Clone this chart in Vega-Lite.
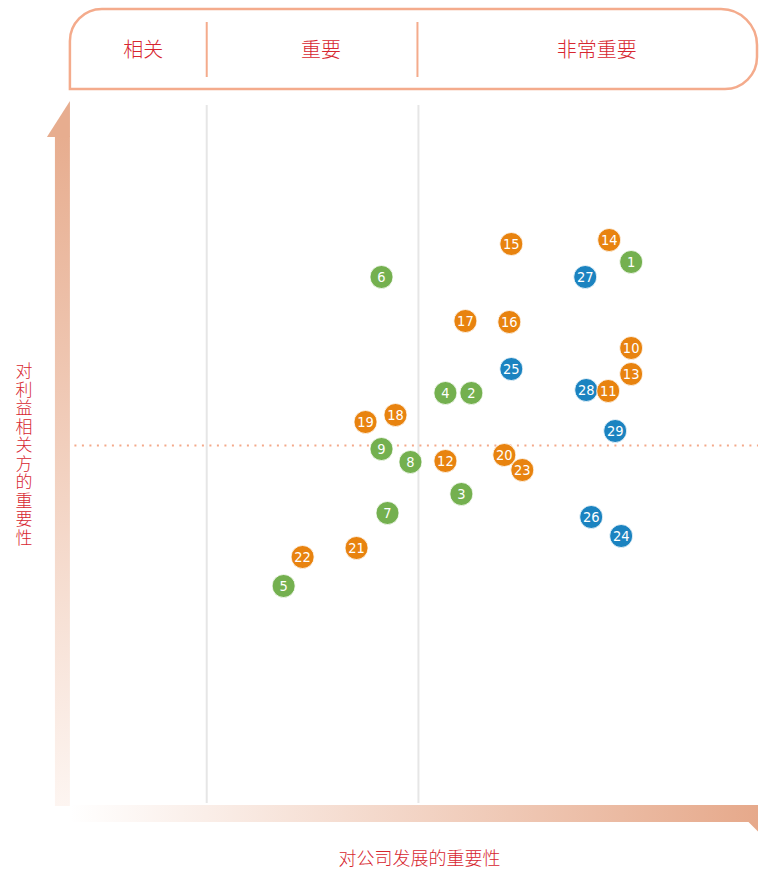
{
  "$schema": "https://vega.github.io/schema/vega-lite/v6.json",
  "width": 759,
  "height": 869,
  "autosize": {"type": "fit", "contains": "padding"},
  "padding": 0,
  "background": "white",
  "config": {"view": {"stroke": null}},
  "data": {"values": [
    {"id": "24", "group": "C", "company": 622, "stakeholder": 333},
    {"id": "25", "group": "C", "company": 512, "stakeholder": 500},
    {"id": "26", "group": "C", "company": 592, "stakeholder": 352},
    {"id": "27", "group": "C", "company": 586, "stakeholder": 592},
    {"id": "28", "group": "C", "company": 587, "stakeholder": 479},
    {"id": "29", "group": "C", "company": 616, "stakeholder": 438},
    {"id": "1", "group": "A", "company": 632, "stakeholder": 607},
    {"id": "2", "group": "A", "company": 472, "stakeholder": 476},
    {"id": "3", "group": "A", "company": 462, "stakeholder": 375},
    {"id": "4", "group": "A", "company": 446, "stakeholder": 476},
    {"id": "5", "group": "A", "company": 284, "stakeholder": 283},
    {"id": "6", "group": "A", "company": 382, "stakeholder": 592},
    {"id": "7", "group": "A", "company": 388, "stakeholder": 356},
    {"id": "8", "group": "A", "company": 411, "stakeholder": 407},
    {"id": "9", "group": "A", "company": 382, "stakeholder": 420},
    {"id": "10", "group": "B", "company": 632, "stakeholder": 521},
    {"id": "11", "group": "B", "company": 609, "stakeholder": 478},
    {"id": "12", "group": "B", "company": 446, "stakeholder": 408},
    {"id": "13", "group": "B", "company": 632, "stakeholder": 495},
    {"id": "14", "group": "B", "company": 610, "stakeholder": 629},
    {"id": "15", "group": "B", "company": 512, "stakeholder": 625},
    {"id": "16", "group": "B", "company": 510, "stakeholder": 547},
    {"id": "17", "group": "B", "company": 466, "stakeholder": 548},
    {"id": "18", "group": "B", "company": 396, "stakeholder": 454},
    {"id": "19", "group": "B", "company": 366, "stakeholder": 447},
    {"id": "20", "group": "B", "company": 505, "stakeholder": 414},
    {"id": "21", "group": "B", "company": 357, "stakeholder": 321},
    {"id": "22", "group": "B", "company": 303, "stakeholder": 312},
    {"id": "23", "group": "B", "company": 523, "stakeholder": 399}
  ]},
  "layer": [
    {
      "data": {"values": [{}]},
      "mark": {"type": "rect", "fill": "white", "stroke": "#f4ab8c", "strokeWidth": 2.5, "cornerRadiusTopLeft": 32, "cornerRadiusBottomLeft": 0, "cornerRadiusTopRight": 36, "cornerRadiusBottomRight": 32},
      "encoding": {
        "x": {"datum": 70, "type": "quantitative", "scale": {"domain": [0, 759], "nice": false, "zero": false}, "axis": null},
        "x2": {"datum": 758},
        "y": {"datum": 860, "type": "quantitative", "scale": {"domain": [0, 869], "nice": false, "zero": false}, "axis": null},
        "y2": {"datum": 780}
      }
    },
    {
      "data": {"values": [{"v": 207}, {"v": 418}]},
      "mark": {"type": "rule", "stroke": "#f4ab8c", "strokeWidth": 2},
      "encoding": {
        "x": {"field": "v", "type": "quantitative"},
        "y": {"datum": 847, "type": "quantitative"},
        "y2": {"datum": 792}
      }
    },
    {
      "data": {"values": [{"v": 207}, {"v": 419}]},
      "mark": {"type": "rule", "stroke": "#e6e6e6", "strokeWidth": 2},
      "encoding": {
        "x": {"field": "v", "type": "quantitative"},
        "y": {"datum": 764, "type": "quantitative"},
        "y2": {"datum": 66}
      }
    },
    {
      "data": {"values": [{}]},
      "mark": {"type": "rule", "stroke": "#f4a98a", "strokeWidth": 2, "strokeDash": [2, 5.5]},
      "encoding": {
        "x": {"datum": 67, "type": "quantitative"},
        "x2": {"datum": 759},
        "y": {"datum": 423.5, "type": "quantitative"}
      }
    },
    {
      "data": {"values": [{}]},
      "mark": {"type": "rect", "fill": {"gradient": "linear", "x1": 0, "y1": 0, "x2": 0, "y2": 1, "stops": [{"offset": 0, "color": "#e7ad8f"}, {"offset": 1, "color": "#fdf5f1"}]}},
      "encoding": {
        "x": {"datum": 55, "type": "quantitative"},
        "x2": {"datum": 70},
        "y": {"datum": 733, "type": "quantitative"},
        "y2": {"datum": 63}
      }
    },
    {
      "data": {"values": [{}]},
      "mark": {"type": "point", "filled": true, "fill": "#e7ad8f", "opacity": 1, "strokeWidth": 0, "size": 1296, "shape": "M0.639,-1 L0.639,1 L-0.639,1 Z"},
      "encoding": {
        "x": {"datum": 58.5, "type": "quantitative"},
        "y": {"datum": 750, "type": "quantitative"}
      }
    },
    {
      "data": {"values": [{}]},
      "mark": {"type": "rect", "fill": {"gradient": "linear", "x1": 0, "y1": 0, "x2": 1, "y2": 0, "stops": [{"offset": 0, "color": "#ffffff"}, {"offset": 1, "color": "#e6a98b"}]}},
      "encoding": {
        "x": {"datum": 70, "type": "quantitative"},
        "x2": {"datum": 759},
        "y": {"datum": 64, "type": "quantitative"},
        "y2": {"datum": 47}
      }
    },
    {
      "data": {"values": [{}]},
      "mark": {"type": "point", "filled": true, "fill": "#e6a98b", "opacity": 1, "strokeWidth": 0, "size": 100, "shape": "M-1,-1 L1,-1 L1,1 Z"},
      "encoding": {
        "x": {"datum": 754, "type": "quantitative"},
        "y": {"datum": 42.5, "type": "quantitative"}
      }
    },
    {
      "data": {"values": [{"label": "相关", "px": 143.5}, {"label": "重要", "px": 321.5}, {"label": "非常重要", "px": 597.5}]},
      "mark": {"type": "text", "font": "Noto Sans CJK SC", "fontSize": 20, "fontWeight": 300, "color": "#d7262f", "align": "center", "baseline": "middle"},
      "encoding": {
        "x": {"field": "px", "type": "quantitative"},
        "y": {"datum": 818, "type": "quantitative"},
        "text": {"field": "label"}
      }
    },
    {
      "data": {"values": [{"label": "对\n利\n益\n相\n关\n方\n的\n重\n要\n性"}]},
      "mark": {"type": "text", "font": "Noto Sans CJK SC", "fontSize": 17, "fontWeight": 300, "color": "#d7262f", "align": "center", "baseline": "middle", "lineBreak": "\n", "lineHeight": 18.5},
      "encoding": {
        "x": {"datum": 24, "type": "quantitative"},
        "y": {"datum": 497, "type": "quantitative"},
        "text": {"field": "label"}
      }
    },
    {
      "data": {"values": [{"label": "对公司发展的重要性"}]},
      "mark": {"type": "text", "font": "Noto Sans CJK SC", "fontSize": 18, "fontWeight": 300, "color": "#d7262f", "align": "center", "baseline": "middle"},
      "encoding": {
        "x": {"datum": 420, "type": "quantitative"},
        "y": {"datum": 9, "type": "quantitative"},
        "text": {"field": "label"}
      }
    },
    {
      "mark": {"type": "circle", "size": 530, "opacity": 1, "stroke": "white", "strokeWidth": 0.8},
      "encoding": {
        "x": {"field": "company", "type": "quantitative"},
        "y": {"field": "stakeholder", "type": "quantitative"},
        "color": {"field": "group", "type": "nominal", "scale": {"domain": ["A", "B", "C"], "range": ["#74b04f", "#e8830f", "#1b83c0"]}, "legend": null},
        "order": {"value": 0}
      }
    },
    {
      "mark": {"type": "text", "font": "DejaVu Sans Condensed, Roboto, sans-serif", "fontSize": 14.5, "color": "white", "align": "center", "baseline": "middle", "dy": 1},
      "encoding": {
        "x": {"field": "company", "type": "quantitative"},
        "y": {"field": "stakeholder", "type": "quantitative"},
        "text": {"field": "id"}
      }
    }
  ]
}
